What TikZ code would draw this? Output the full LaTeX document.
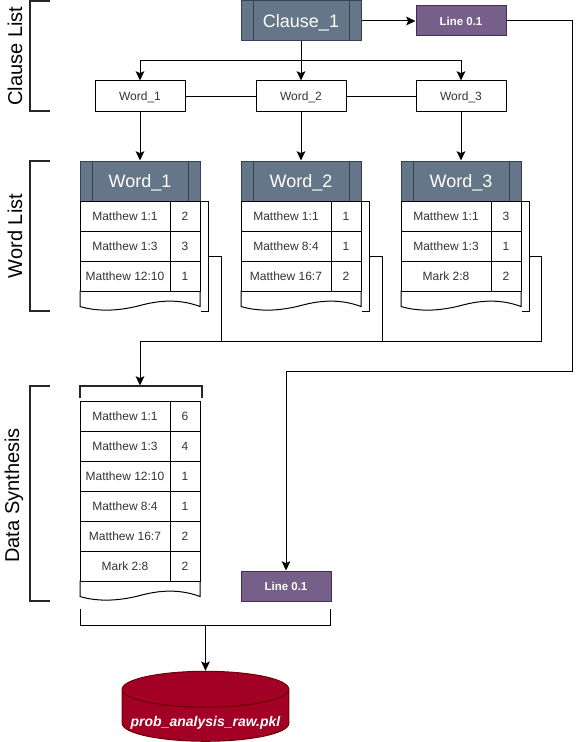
\documentclass[tikz,border=0pt]{standalone}
\usepackage{fontspec}
\setmainfont{Liberation Sans}
\usetikzlibrary{calc,arrows.meta,shapes.geometric}
\definecolor{slatefill}{HTML}{647687}
\definecolor{slateline}{HTML}{314354}
\definecolor{purplefill}{HTML}{76608A}
\definecolor{purpleline}{HTML}{432D57}
\definecolor{redfill}{HTML}{A20025}
\definecolor{redline}{HTML}{6F0000}
\tikzset{>={Stealth[length=7pt,width=6.5pt,inset=1.5pt]}}
\tikzset{
  conn/.style={line width=0.75pt,black},
  brace/.style={line width=1.5pt,black!85},
  sidelabel/.style={rotate=90,font=\fontsize{15}{18}\selectfont},
  headbox/.style={draw=slateline,fill=slatefill,text=white,line width=0.75pt,
    minimum width=90pt,minimum height=30pt,inner sep=0pt,text height=9.7pt,text depth=0pt,
    font=\fontsize{13.5}{16}\selectfont,
    path picture={
      \draw[slateline,line width=0.75pt] ($(path picture bounding box.north west)+(9pt,0)$) -- ($(path picture bounding box.south west)+(9pt,0)$);
      \draw[slateline,line width=0.75pt] ($(path picture bounding box.north east)+(-9pt,0)$) -- ($(path picture bounding box.south east)+(-9pt,0)$);
    }},
  linebox/.style={draw=purpleline,fill=purplefill,text=white,line width=0.75pt,
    minimum width=67.5pt,minimum height=22.5pt,inner sep=0pt,text height=6.2pt,text depth=0pt,
    font=\fontsize{8.6}{10}\selectfont\bfseries},
  wordbox/.style={draw,fill=white,line width=0.75pt,text=black!80,
    minimum width=67.5pt,minimum height=22.5pt,inner sep=0pt,text height=6.5pt,text depth=0pt,
    font=\fontsize{9}{11}\selectfont},
  versecell/.style={wordbox,minimum width=67.5pt},
  hitscell/.style={wordbox,minimum width=22.5pt},
}
% rows of one table: prefix, left edge, top edge, rows
\newcommand{\versetable}[4]{
  \foreach \verse/\hits [count=\i] in {#4} {
    \node[versecell] (#1v\i) at ({#2+45},{#3-15+30*\i}) {\verse};
    \node[hitscell] (#1h\i) at ({#2+105},{#3-15+30*\i}) {\hits};
  }
}
% wavy bottom of a table: left edge, top edge
\newcommand{\tablefoot}[2]{
  \begin{scope}[shift={(#1,#2)}]
    \draw[conn,fill=white] (0,0) -- (0,15.5) .. controls (15,20) and (35,21) .. (60,14.5)
      .. controls (80,9) and (100,8) .. (120,15.5) -- (120,0) -- cycle;
  \end{scope}
}
\begin{document}
\begin{tikzpicture}[x=0.75pt,y=-0.75pt]
  \useasboundingbox (0,0) rectangle (581,742);
  % side labels
  \node[sidelabel] (clauselabel) at (15,56) {Clause List};
  \node[sidelabel] (wordlabel) at (15,236) {Word List};
  \node[sidelabel] (synthlabel) at (14,495.5) {Data Synthesis};
  \draw[brace] (50,1) -- (30,1) -- (30,111) -- (50,111);
  \draw[brace] (50,161) -- (30,161) -- (30,311) -- (50,311);
  \draw[brace] (50,386) -- (30,386) -- (30,601) -- (50,601);
  % clause and words
  \node[headbox] (clause) at (301,21) {Clause\_1};
  \node[linebox] (line1) at (461,21) {Line 0.1};
  \node[wordbox] (word1) at (140,96) {Word\_1};
  \node[wordbox] (word2) at (301,96) {Word\_2};
  \node[wordbox] (word3) at (461,96) {Word\_3};
  \coordinate (fork) at (301,61);
  \draw[conn,->] (clause) -- (line1);
  \draw[conn,->] (clause) -- (word2);
  \draw[conn,->] (fork) -| (word1);
  \draw[conn,->] (fork) -| (word3);
  \draw[conn] (word1) -- (word2);
  \draw[conn] (word2) -- (word3);
  % word tables
  \node[headbox] (head1) at (140,181) {Word\_1};
  \node[headbox] (head2) at (301,181) {Word\_2};
  \node[headbox] (head3) at (461,181) {Word\_3};
  \draw[conn,->] (word1) -- (head1);
  \draw[conn,->] (word2) -- (head2);
  \draw[conn,->] (word3) -- (head3);
  \tablefoot{80}{291}
  \tablefoot{241}{291}
  \tablefoot{401}{291}
  \versetable{a}{80}{201}{Matthew 1:1/2,Matthew 1:3/3,Matthew 12:10/1}
  \versetable{b}{241}{201}{Matthew 1:1/1,Matthew 8:4/1,Matthew 16:7/2}
  \versetable{c}{401}{201}{Matthew 1:1/3,Matthew 1:3/1,Mark 2:8/2}
  % brackets beside the tables
  \draw[conn] (200,201) -- (208,201) -- (208,311) -- (201,311);
  \draw[conn] (361,201) -- (369,201) -- (369,311) -- (362,311);
  \draw[conn] (521,201) -- (529,201) -- (529,311) -- (522,311);
  \coordinate (side1) at (208,256);
  \coordinate (side2) at (369,256);
  \coordinate (side3) at (529,256);
  % data synthesis
  \coordinate (synthtop) at (140,385.5);
  \draw[brace] (79.5,398) -- (79.5,385.5) -- (201.5,385.5) -- (201.5,398);
  \draw[conn] (side1) -- (221.5,256) -- (221.5,341);
  \draw[conn] (side2) -- (382,256) -- (382,341);
  \draw[conn,->] (side3) -- (541.5,256) -- (541.5,341) -- (140,341) -- (synthtop);
  \tablefoot{80}{581}
  \versetable{d}{80}{401}{Matthew 1:1/6,Matthew 1:3/4,Matthew 12:10/1,Matthew 8:4/1,Matthew 16:7/2,Mark 2:8/2}
  % second line box
  \node[linebox] (line2) at (286,586) {Line 0.1};
  \draw[conn,->] (line1) -- (572,21) -- (572,371.5) -- (286,371.5) -- (line2);
  % output file
  \draw[conn] (80.5,609) -- (80.5,625) -- (330,625) -- (330,609);
  \coordinate (joined) at (205.5,625);
  \node[cylinder,shape border rotate=90,shape aspect=0.24,draw=redline,fill=redfill,text=white,
    line width=0.75pt,minimum width=125pt,minimum height=52.5pt,inner sep=0pt,
    font=\fontsize{10.5}{12}\selectfont\bfseries\itshape] (pkl) at (205.5,715.5) {\raisebox{-7.9pt}[0pt][0pt]{prob\_analysis\_raw.pkl}};
  \draw[conn,->] (joined) -- (pkl.top);
\end{tikzpicture}
\end{document}
